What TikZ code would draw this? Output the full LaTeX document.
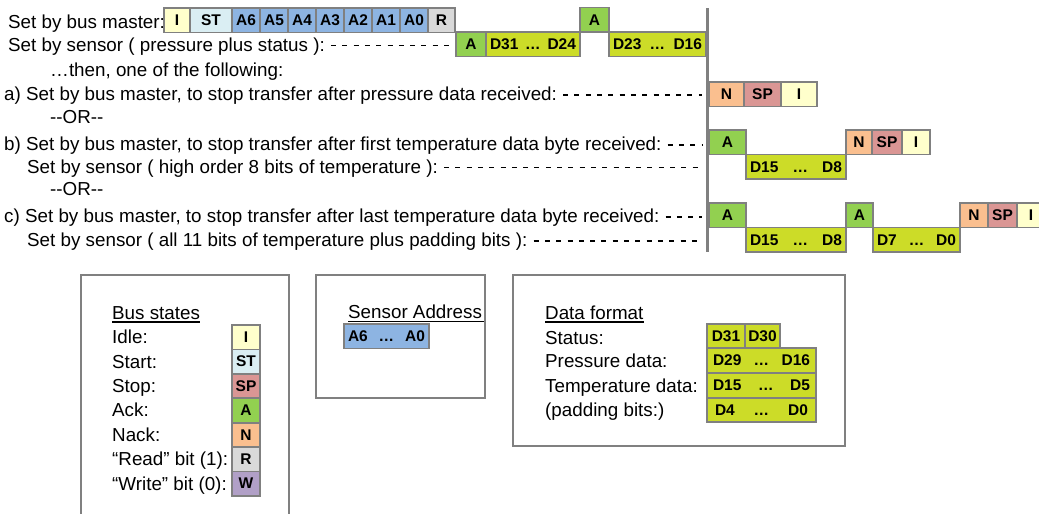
\documentclass[tikz,border=0pt]{standalone}
\usepackage{fontspec}
\setmainfont{Liberation Sans}
\usepackage{xcolor}
\usetikzlibrary{positioning}

\definecolor{edgegray}{HTML}{808080}
\definecolor{idlecol}{HTML}{FFFFCC}
\definecolor{startcol}{HTML}{DAEEF3}
\definecolor{stopcol}{HTML}{DA9694}
\definecolor{ackcol}{HTML}{92D050}
\definecolor{nackcol}{HTML}{FABF8F}
\definecolor{readcol}{HTML}{D9D9D9}
\definecolor{writecol}{HTML}{B1A0C7}
\definecolor{addrcol}{HTML}{8DB4E2}
\definecolor{datacol}{HTML}{CCDC28}

\newcommand{\txtfont}{\fontsize{18.8}{22}\selectfont}
\newcommand{\bitfont}{\bfseries\fontsize{15.5}{18}\selectfont}
\newcommand{\bitrange}[2]{#1\hfill…\hfill #2}

\begin{document}
\begin{tikzpicture}[x=1pt, y=-1pt,
    cell/.style={draw=edgegray, line width=1.8pt, outer sep=0pt, inner sep=0pt,
        minimum height=24.5pt, anchor=north west, align=center, font=\bitfont},
    idlebit/.style={cell, fill=idlecol},
    startbit/.style={cell, fill=startcol},
    stopbit/.style={cell, fill=stopcol},
    ackbit/.style={cell, fill=ackcol},
    nackbit/.style={cell, fill=nackcol},
    readbit/.style={cell, fill=readcol},
    writebit/.style={cell, fill=writecol},
    addrbit/.style={cell, fill=addrcol},
    databit/.style={cell, fill=datacol},
    spread/.style={inner xsep=4pt, text width=#1},
    rowtext/.style={inner sep=0pt, anchor=base west, font=\txtfont},
    leader/.style={line width=1.6pt, dash pattern=on 5pt off 6.3pt},
    frame/.style={draw=edgegray, line width=1.8pt},
    uline/.style={line width=1.4pt}]
    \useasboundingbox (0,0) rectangle (1039,514);

    % Bus master: start and address
    \node[rowtext] (master) at (8,28) {Set by bus master:};
    \node[idlebit, minimum width=26pt] (m0) at (164,8) {I};
    \node[startbit, minimum width=42pt, right=0pt of m0] (m1) {ST};
    \node[addrbit, minimum width=28pt, right=0pt of m1] (m2) {A6};
    \node[addrbit, minimum width=28pt, right=0pt of m2] (m3) {A5};
    \node[addrbit, minimum width=28pt, right=0pt of m3] (m4) {A4};
    \node[addrbit, minimum width=28pt, right=0pt of m4] (m5) {A3};
    \node[addrbit, minimum width=28pt, right=0pt of m5] (m6) {A2};
    \node[addrbit, minimum width=28pt, right=0pt of m6] (m7) {A1};
    \node[addrbit, minimum width=28pt, right=0pt of m7] (m8) {A0};
    \node[readbit, minimum width=27pt, right=0pt of m8] (m9) {R};

    % Sensor: pressure plus status
    \node[rowtext] (sensor) at (8,51) {Set by sensor ( pressure plus status ):};
    \node[ackbit, minimum width=30pt] (s0) at (456,32) {A};
    \node[databit, spread=86pt, right=0pt of s0] (s1) {\bitrange{D31}{D24}};
    \node[ackbit, minimum width=29pt, anchor=south west] (m10) at (s1.north east) {A};
    \node[databit, spread=89pt, anchor=north west] (s2) at (m10.south east) {\bitrange{D23}{D16}};
    \coordinate (d0) at ([xshift=6pt, yshift=5.5pt]sensor.base east);
    \draw[leader, shorten >=3pt] (d0) -- (d0 -| s0.west);

    % Common time line
    \coordinate (sync top) at (707.5,8);
    \coordinate (sync bottom) at (707.5,252);

    \node[rowtext] (then) at (50,76) {…then, one of the following:};

    % a) stop after pressure
    \node[rowtext] (opta) at (4,100.5) {a) Set by bus master, to stop transfer after pressure data received:};
    \node[nackbit, minimum width=35pt] (a0) at (709,82) {N};
    \node[stopbit, minimum width=37pt, right=0pt of a0] (a1) {SP};
    \node[idlebit, minimum width=36pt, right=0pt of a1] (a2) {I};
    \coordinate (d1) at ([xshift=6pt, yshift=5.5pt]opta.base east);
    \draw[leader, shorten >=5.5pt] (d1) -- (d1 -| sync top);

    \node[rowtext] (or1) at (50,123) {-{}-OR-{}-};

    % b) stop after first temperature byte
    \node[rowtext] (optb) at (4,150.5) {b) Set by bus master, to stop transfer after first temperature data byte received:};
    \node[ackbit, minimum width=37pt] (b0) at (709,130) {A};
    \node[databit, spread=92pt, anchor=north west] (b1) at (b0.south east) {\bitrange{D15}{D8}};
    \node[nackbit, minimum width=26pt, anchor=south west] (b2) at (b1.north east) {N};
    \node[stopbit, minimum width=30pt, right=0pt of b2] (b3) {SP};
    \node[idlebit, minimum width=28pt, right=0pt of b3] (b4) {I};
    \node[rowtext] (senb) at (27,173) {Set by sensor ( high order 8 bits of temperature ):};
    \coordinate (d2) at ([xshift=6pt, yshift=5.5pt]optb.base east);
    \draw[leader, shorten >=5.5pt] (d2) -- (d2 -| sync top);
    \coordinate (d3) at ([xshift=6pt, yshift=5.5pt]senb.base east);
    \draw[leader, shorten >=5.5pt] (d3) -- (d3 -| sync top);

    \node[rowtext] (or2) at (50,195) {-{}-OR-{}-};

    % c) stop after last temperature byte
    \node[rowtext] (optc) at (4,222.5) {c) Set by bus master, to stop transfer after last temperature data byte received:};
    \node[ackbit, minimum width=37pt] (c0) at (709,203) {A};
    \node[databit, spread=92pt, anchor=north west] (c1) at (c0.south east) {\bitrange{D15}{D8}};
    \node[ackbit, minimum width=27pt, anchor=south west] (c2) at (c1.north east) {A};
    \node[databit, spread=79pt, anchor=north west] (c3) at (c2.south east) {\bitrange{D7}{D0}};
    \node[nackbit, minimum width=28pt, anchor=south west] (c4) at (c3.north east) {N};
    \node[stopbit, minimum width=29pt, right=0pt of c4] (c5) {SP};
    \node[idlebit, minimum width=28pt, right=0pt of c5] (c6) {I};
    \node[rowtext] (senc) at (27,246.5) {Set by sensor ( all 11 bits of temperature plus padding bits ):};
    \coordinate (d4) at ([xshift=6pt, yshift=5.5pt]optc.base east);
    \draw[leader, shorten >=5.5pt] (d4) -- (d4 -| sync top);
    \coordinate (d5) at ([xshift=6pt, yshift=5.5pt]senc.base east);
    \draw[leader, shorten >=5.5pt] (d5) -- (d5 -| sync top);

    \draw[edgegray, line width=3.5pt] (sync top) -- (sync bottom);

    % Legend: bus states
    \draw[frame] (81,514) -- (81,275) -- (289,275) -- (289,514);
    \node[rowtext] (bus) at (112,319) {Bus states};
    \draw[uline] ([yshift=-3pt]bus.base west) -- ([yshift=-3pt]bus.base east);
    \node[rowtext] at (112,343.7) {Idle:};
    \node[rowtext] at (112,368.1) {Start:};
    \node[rowtext] at (112,392.5) {Stop:};
    \node[rowtext] at (112,416.9) {Ack:};
    \node[rowtext] at (112,441.3) {Nack:};
    \node[rowtext] at (112,465.7) {“Read” bit (1):};
    \node[rowtext] at (112,490.1) {“Write” bit (0):};
    \node[idlebit, minimum width=28pt, minimum height=24.4pt] (k0) at (232,325) {I};
    \node[startbit, minimum width=28pt, minimum height=24.4pt, below=0pt of k0] (k1) {ST};
    \node[stopbit, minimum width=28pt, minimum height=24.4pt, below=0pt of k1] (k2) {SP};
    \node[ackbit, minimum width=28pt, minimum height=24.4pt, below=0pt of k2] (k3) {A};
    \node[nackbit, minimum width=28pt, minimum height=24.4pt, below=0pt of k3] (k4) {N};
    \node[readbit, minimum width=28pt, minimum height=24.4pt, below=0pt of k4] (k5) {R};
    \node[writebit, minimum width=28pt, minimum height=24.4pt, below=0pt of k5] (k6) {W};

    % Legend: sensor address
    \draw[frame] (316,275) rectangle (485,398);
    \node[rowtext] (addr) at (348,318.5) {Sensor Address};
    \draw[uline] ([yshift=-3pt]addr.base west) -- ([yshift=-3pt, xshift=2pt]addr.base east);
    \node[addrbit, spread=77pt] (addrbits) at (344,324) {\bitrange{A6}{A0}};

    % Legend: data format
    \draw[frame] (513,275) rectangle (845,446);
    \node[rowtext] (fmt) at (545,319) {Data format};
    \draw[uline] ([yshift=-3pt]fmt.base west) -- ([yshift=-3pt]fmt.base east);
    \node[rowtext] at (545,344) {Status:};
    \node[rowtext] at (545,367.5) {Pressure data:};
    \node[rowtext] at (545,392) {Temperature data:};
    \node[rowtext] at (545,416) {(padding bits:)};
    \node[databit, minimum width=38pt, minimum height=24pt] (f0) at (707,324) {D31};
    \node[databit, minimum width=35pt, minimum height=24pt, right=0pt of f0] (f1) {D30};
    \node[databit, spread=97pt, inner xsep=6pt, minimum height=25pt] (f2) at (707,348) {\bitrange{D29}{D16}};
    \node[databit, spread=97pt, inner xsep=6pt, minimum height=25pt] (f3) at (707,373) {\bitrange{D15}{D5}};
    \node[databit, spread=93pt, inner xsep=8pt, minimum height=24pt] (f4) at (707,398) {\bitrange{D4}{D0}};
\end{tikzpicture}
\end{document}
